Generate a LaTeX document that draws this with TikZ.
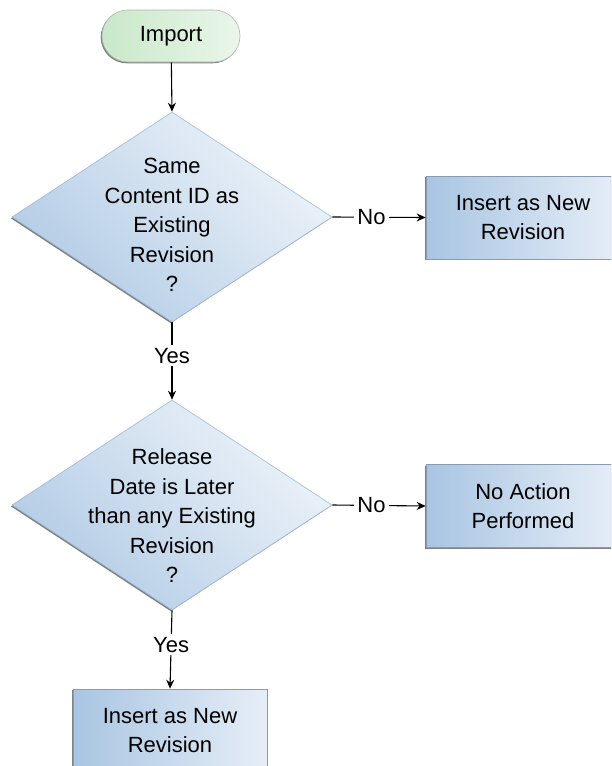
\documentclass[tikz,border=0pt]{standalone}
\usepackage{fontspec}
\setmainfont{Liberation Sans}
\usetikzlibrary{shapes.geometric,shadows,arrows.meta}
\definecolor{greenA}{HTML}{C9E8C9}
\definecolor{greenB}{HTML}{EAF6EA}
\definecolor{blueA}{HTML}{B2CBE5}
\definecolor{blueB}{HTML}{EDF3F9}
\definecolor{boxA}{HTML}{A9C5E2}
\definecolor{boxB}{HTML}{E6EEF7}
\definecolor{blueline}{HTML}{9DBBD9}
\definecolor{boxline}{HTML}{8A9BB0}
\begin{document}
\begin{tikzpicture}[x=1pt,y=-1pt,
  font=\fontsize{22}{29.5}\selectfont,
  shadowed/.style={drop shadow={shadow xshift=-1.3pt,shadow yshift=-1.3pt,opacity=0.65,fill=black!75}},
  startnode/.style={rectangle,rounded corners=26pt,minimum width=138pt,minimum height=52pt,
    draw=gray!60,line width=0.6pt,left color=greenA,right color=greenB,shadowed},
  decision/.style={diamond,minimum width=320pt,minimum height=210pt,inner sep=0pt,
    draw=blueline,line width=0.6pt,top color=blueB,bottom color=blueA,shading angle=-45,shadowed},
  dtext/.style={align=center,inner sep=0pt},
  procnode/.style={rectangle,minimum width=194pt,minimum height=83pt,align=center,
    draw=boxline,line width=0.6pt,left color=boxA,right color=boxB,shadowed},
  lbl/.style={fill=white,inner sep=3pt},
  arr/.style={-{Stealth[length=9pt,width=8pt]},line width=1.1pt}
]
\clip (0,0) rectangle (611,766);
\fill[white] (0,0) rectangle (611,766);

\node[startnode] (imp) at (171,36) {Import};

\node[decision] (d1) at (172,217) {};
\node[dtext] (t1) at (172,225) {Same\\Content ID as\\Existing\\Revision\\?};

\node[procnode] (b1) at (523,217.5) {Insert as New\\Revision};

\node[decision] (d2) at (172,505) {};
\node[dtext] (t2) at (172,516) {Release\\Date is Later\\than any Existing\\Revision\\?};

\node[procnode] (b2) at (523,506) {No Action\\Performed};

\node[procnode] (b3) at (170,730.5) {Insert as New\\Revision};

\draw[arr] (imp) -- (d1.north);
\draw[arr] (d1.east) -- node[lbl,pos=0.42] {No} (b1.west);
\draw[arr] (d1.south) -- node[lbl,pos=0.43] {Yes} (d2.north);
\draw[arr] (d2.east) -- node[lbl,pos=0.42] {No} (b2.west);
\draw[arr] (d2.south) -- node[lbl,pos=0.44] {Yes} (b3.north);
\end{tikzpicture}
\end{document}
